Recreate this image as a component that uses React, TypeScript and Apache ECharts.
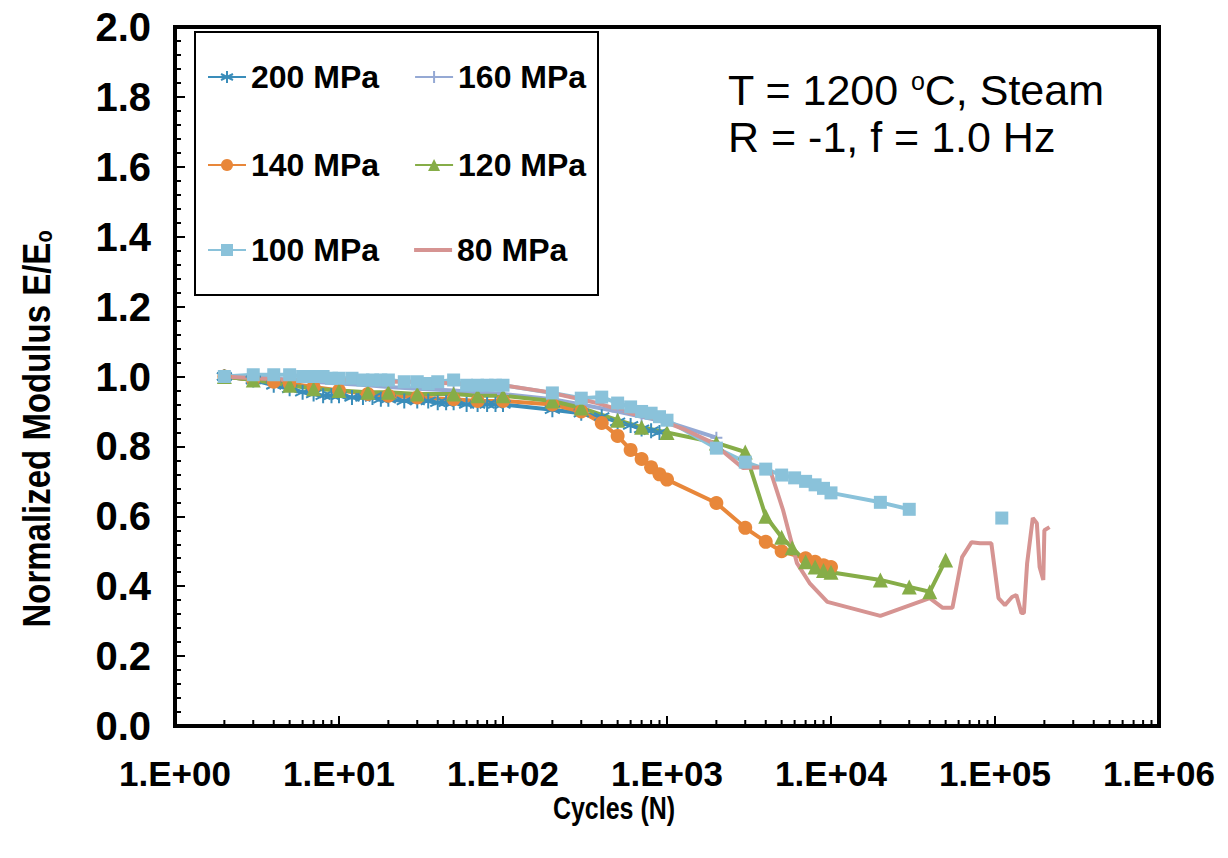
import React, { useEffect, useRef } from "react";
import * as echarts from "echarts";

const FONT = '"Liberation Sans", Arial, sans-serif';

// Cycles (N) and normalized modulus E/Eo for each stress level
const N200 = [2, 3, 4, 5, 6, 7, 8, 9, 10, 12, 14, 16, 18, 20, 25, 30, 35, 40, 45, 50, 60, 70, 80, 90, 100, 200, 300, 400, 500, 600, 700, 800, 900];
const V200 = [1.0, 0.99, 0.975, 0.965, 0.955, 0.95, 0.945, 0.945, 0.945, 0.94, 0.94, 0.94, 0.935, 0.935, 0.93, 0.93, 0.93, 0.925, 0.925, 0.925, 0.92, 0.92, 0.92, 0.92, 0.92, 0.905, 0.895, 0.885, 0.87, 0.86, 0.85, 0.845, 0.84];

const N160 = [2, 3, 4, 5, 7, 10, 15, 20, 30, 50, 70, 100, 200, 300, 500, 700, 1000, 2000];
const V160 = [1.0, 1.0, 0.995, 0.99, 0.985, 0.98, 0.975, 0.97, 0.965, 0.96, 0.955, 0.95, 0.935, 0.92, 0.9, 0.885, 0.87, 0.825];

const N140 = [2, 3, 4, 5, 7, 10, 15, 20, 30, 50, 70, 100, 200, 300, 400, 500, 600, 700, 800, 900, 1000, 2000, 3000, 4000, 5000, 7000, 8000, 9000, 10000];
const V140 = [1.0, 0.99, 0.985, 0.98, 0.97, 0.96, 0.95, 0.945, 0.94, 0.935, 0.93, 0.93, 0.92, 0.9, 0.867, 0.83, 0.79, 0.764, 0.74, 0.72, 0.705, 0.638, 0.567, 0.527, 0.5, 0.48, 0.47, 0.46, 0.455];

const N120 = [2, 3, 5, 7, 10, 15, 20, 30, 50, 70, 100, 200, 300, 500, 700, 1000, 2000, 3000, 4000, 5000, 5800, 7000, 8000, 9000, 10000, 20000, 30000, 40000, 50000];
const V120 = [1.0, 0.99, 0.975, 0.965, 0.96, 0.955, 0.955, 0.95, 0.95, 0.945, 0.945, 0.93, 0.91, 0.875, 0.855, 0.84, 0.81, 0.784, 0.6, 0.54, 0.51, 0.47, 0.455, 0.445, 0.44, 0.418, 0.398, 0.384, 0.475];

const N100 = [2, 3, 4, 5, 6, 7, 8, 9, 10, 12, 14, 16, 18, 20, 25, 30, 35, 40, 50, 60, 70, 80, 90, 100, 200, 300, 400, 500, 600, 700, 800, 900, 1000, 2000, 3000, 4000, 5000, 6000, 7000, 8000, 9000, 10000, 20000, 30000, 60000, 110000];
const V100 = [1.0, 1.005, 1.005, 1.005, 1.0, 1.0, 1.0, 0.995, 0.995, 0.995, 0.99, 0.99, 0.99, 0.99, 0.985, 0.985, 0.98, 0.985, 0.99, 0.975, 0.975, 0.975, 0.975, 0.975, 0.953, 0.938, 0.941, 0.924, 0.913, 0.9, 0.895, 0.885, 0.875, 0.795, 0.755, 0.735, 0.718, 0.71, 0.7, 0.69, 0.68, 0.667, 0.64, 0.62, null, 0.595];

const N80 = [2, 3, 5, 7, 10, 20, 30, 50, 70, 100, 185, 375, 600, 900, 1300, 1900, 2900, 4200, 5100, 6200, 7400, 9500, 20000, 40000, 48000, 55000, 63000, 72000, 81000, 95000, 105000, 115000, 127000, 135000, 145000, 150000, 157000, 170000, 180000, 187000, 197000, 200000, 215000];
const V80 = [1.0, 0.995, 0.99, 0.99, 0.99, 0.985, 0.985, 0.98, 0.975, 0.975, 0.956, 0.924, 0.895, 0.876, 0.847, 0.81, 0.738, 0.741, 0.618, 0.466, 0.409, 0.355, 0.315, 0.366, 0.338, 0.338, 0.483, 0.526, 0.523, 0.523, 0.366, 0.346, 0.369, 0.375, 0.323, 0.323, 0.466, 0.595, 0.58, 0.455, 0.418, 0.56, 0.569];

const SERIES_NAMES = ["200 MPa", "160 MPa", "140 MPa", "120 MPa", "100 MPa", "80 MPa"];
const Y_TICKS = [0, 2, 0.2];
const X_RANGE = [1, 1e6];
const MINOR_MULT = [2, 3, 4, 5, 6, 7, 8, 9];
const DECADES = [1, 10, 100, 1000, 10000, 100000];

const STAR = "path://M0,-10L0,10M-8.66,-5L8.66,5M-8.66,5L8.66,-5";
const PLUS = "path://M0,-10L0,10M-10,0L10,0";
const LINE_ICON = "path://M0,0L38,0L38,4L0,4Z";

const pair = (xs: number[], ys: (number | null)[]) =>
  xs.map((x, i) => [x, ys[i] == null ? "-" : ys[i]]);

export default function App() {
  const ref = useRef<HTMLDivElement>(null);
  useEffect(() => {
    if (!ref.current) return;
    const chart = echarts.init(ref.current, null, { renderer: "svg" });

    const lineSeries = (
      name: string,
      data: any[],
      color: string,
      symbol: string,
      size: number,
      stroke = false
    ) => ({
      type: "line",
      name,
      data,
      connectNulls: false,
      symbol,
      symbolSize: size,
      showSymbol: symbol !== "none",
      lineStyle: { color, width: 4 },
      itemStyle: stroke
        ? { color: "transparent", borderColor: color, borderWidth: 2 }
        : { color, borderColor: color, borderWidth: 0 },
      color,
      emphasis: { disabled: true },
    });

    const minorTicks: number[][] = [];
    DECADES.forEach((d) => MINOR_MULT.forEach((m) => minorTicks.push([d * m, 0])));

    const legendCommon = {
      padding: 0,
      itemWidth: 38,
      itemHeight: 15,
      itemGap: 35,
      left: 207,
      selectedMode: false,
      textStyle: { fontSize: 32, fontWeight: "bold", color: "#000", fontFamily: FONT },
    };

    chart.setOption({
      animation: false,
      backgroundColor: "#fff",
      grid: {
        left: 175,
        right: 69,
        top: 27,
        bottom: 132,
        show: true,
        borderColor: "#000",
        borderWidth: 4,
      },
      legend: [
        { ...legendCommon, top: 61, data: [SERIES_NAMES[0], SERIES_NAMES[1]] },
        { ...legendCommon, top: 149, data: [SERIES_NAMES[2], SERIES_NAMES[3]] },
        {
          ...legendCommon,
          top: 234,
          data: [
            SERIES_NAMES[4],
            { name: SERIES_NAMES[5], icon: LINE_ICON, itemStyle: { color: "#D69492" } },
          ],
        },
      ],
      xAxis: {
        type: "log",
        logBase: 10,
        min: X_RANGE[0],
        max: X_RANGE[1],
        splitNumber: 6,
        axisLine: { show: true, lineStyle: { color: "#000", width: 4 } },
        axisTick: { show: true, inside: true, length: 10, lineStyle: { color: "#000", width: 2 } },
        splitLine: { show: false },
        axisLabel: {
          margin: 30,
          fontSize: 35,
          fontWeight: "bold",
          color: "#000",
          fontFamily: FONT,
          formatter: (v: number) => {
            const e = Math.round(Math.log10(v));
            return "1.E+" + String(e).padStart(2, "0");
          },
        },
      },
      yAxis: {
        type: "value",
        min: Y_TICKS[0],
        max: Y_TICKS[1],
        interval: Y_TICKS[2],
        axisLine: { show: true, lineStyle: { color: "#000", width: 4 } },
        axisTick: { show: true, inside: true, length: 10, lineStyle: { color: "#000", width: 2 } },
        minorTick: { show: true, splitNumber: 5, length: 6, lineStyle: { color: "#000", width: 2 } },
        splitLine: { show: false },
        axisLabel: {
          margin: 24,
          fontSize: 40,
          fontWeight: "bold",
          color: "#000",
          fontFamily: FONT,
          formatter: (v: number) => v.toFixed(1),
        },
      },
      graphic: [
        {
          type: "rect",
          z: 3,
          shape: { x: 195, y: 32, width: 403, height: 263 },
          style: { fill: "#fff", stroke: "#000", lineWidth: 2 },
        },
        {
          type: "text",
          z: 5,
          x: 36,
          y: 429,
          rotation: Math.PI / 2,
          scaleY: 1.2,
          style: {
            text: "{a|Normalized Modulus E/E}{s|o}",
            align: "center",
            verticalAlign: "middle",
            fill: "#000",
            rich: {
              a: { fontSize: 33, fontWeight: "bold", fontFamily: FONT, fill: "#000" },
              s: { fontSize: 20, fontWeight: "bold", fontFamily: FONT, fill: "#000", verticalAlign: "bottom" },
            },
          },
        },
        {
          type: "text",
          z: 5,
          x: 614,
          y: 808,
          scaleY: 1.25,
          style: {
            text: "Cycles (N)",
            fontSize: 25,
            fontWeight: "bold",
            fontFamily: FONT,
            fill: "#000",
            align: "center",
            verticalAlign: "middle",
          },
        },
        {
          type: "text",
          z: 5,
          x: 728,
          y: 90,
          style: {
            text: "{a|T = 1200 }{s|o}{a|C, Steam}",
            align: "left",
            verticalAlign: "middle",
            fill: "#000",
            rich: {
              a: { fontSize: 43, fontFamily: FONT, fill: "#000" },
              s: { fontSize: 25, fontFamily: FONT, fill: "#000", verticalAlign: "top" },
            },
          },
        },
        {
          type: "text",
          z: 5,
          x: 728,
          y: 137,
          style: {
            text: "R = -1, f = 1.0 Hz",
            fontSize: 43,
            fontFamily: FONT,
            fill: "#000",
            align: "left",
            verticalAlign: "middle",
          },
        },
      ],
      series: [
        lineSeries(SERIES_NAMES[0], pair(N200, V200), "#3A8DBA", STAR, 15, true),
        lineSeries(SERIES_NAMES[1], pair(N160, V160), "#95A9D4", PLUS, 12, true),
        lineSeries(SERIES_NAMES[2], pair(N140, V140), "#E8873A", "circle", 14),
        lineSeries(SERIES_NAMES[3], pair(N120, V120), "#86AD48", "triangle", 15),
        lineSeries(SERIES_NAMES[4], pair(N100, V100), "#8AC2DA", "rect", 13),
        lineSeries(SERIES_NAMES[5], pair(N80, V80), "#D69492", "none", 0),
        {
          type: "custom",
          name: "minorTicks",
          silent: true,
          z: 10,
          data: minorTicks,
          renderItem: (_p: any, api: any) => {
            const pt = api.coord([api.value(0), 0]);
            return {
              type: "line",
              shape: { x1: pt[0], y1: pt[1], x2: pt[0], y2: pt[1] - 6 },
              style: { stroke: "#000", lineWidth: 2 },
            };
          },
        },
      ],
    });
    return () => chart.dispose();
  }, []);

  return (
    <div
      ref={ref}
      style={{ position: "fixed", left: 0, top: 0, width: 1228, height: 858, background: "#fff" }}
    />
  );
}
